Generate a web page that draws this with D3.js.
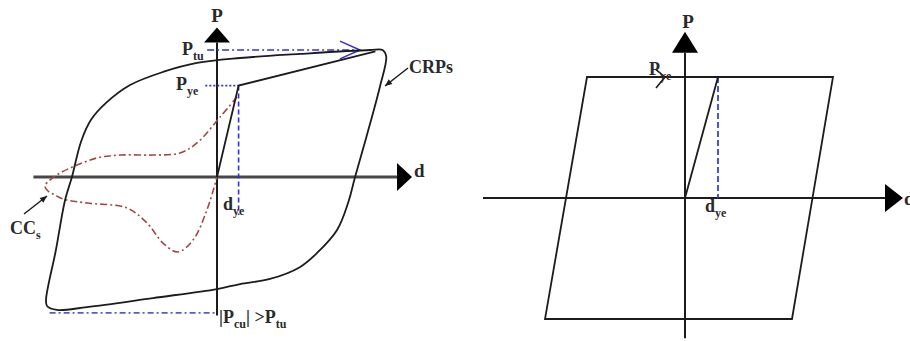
<!DOCTYPE html>
<html><head><meta charset="utf-8">
<script src="https://cdn.jsdelivr.net/npm/d3@7"></script>
<style>html,body{margin:0;padding:0;background:#fff;} svg{display:block;}</style>
</head><body>
<svg id="fig" width="910" height="341"></svg>
<script>
// ---- Left diagram: cyclic response envelope (CRPs) and concrete curve (CCs), [d, P] ----
const crpLoop = [
  [85,100],[92,100],[94,95],[90.5,71],[83,31.5],[76.7,0],[72.8,-20.5],[66.7,-41.7],
  [55.6,-59.8],[46,-71],[29.4,-80.3],[12.8,-84.3],[0,-88.2],[-35.6,-95.3],[-72.2,-102.4],
  [-88.9,-104.7],[-94.4,-101.6],[-95,-97],[-89.5,-57.5],[-84.4,-18.1],[-80.6,0],[-75.5,28],
  [-70,45],[-61.5,58.5],[-48.3,72.4],[-30,82.7],[-11.1,89.8],[12.8,93.7],[46,96.9]
];
const ccLoop = [
  [11.1,63],[1.7,47.2],[-11.1,26.8],[-20.6,18.9],[-35.6,17.3],[-53.9,17.3],[-66.7,15],
  [-77.8,9.4],[-87.2,3.1],[-92.8,-2.4],[-95.6,-7.1],[-93.9,-11],[-90,-14.2],[-85.6,-17.3],
  [-72.2,-20.5],[-50,-24.4],[-38.9,-36.2],[-30,-52],[-21.7,-59],[-13.3,-49.6],[-5.6,-26],[0,0]
];
const loadingLeft = [[0,0],[12,72],[88,99]];
const dyeLeft = 12, PyeLeft = 72, PtuLeft = 100, PcuLeft = -107;
const dAxisLeft = [-102, 100], PAxisLeft = [-109, 106];

// ---- Right diagram: elastic–perfectly plastic loop, [d, P] ----
const epLoop = [[-49,100],[74,100],[53.5,-100],[-70,-100]];
const loadingRight = [[0,0],[16.5,100]];
const dyeRight = 16.5, PyeRight = 100;
const dAxisRight = [-101, 100], PAxisRight = [-116, 120];

const svg = d3.select("#fig");
svg.append("rect").attr("width",910).attr("height",341).attr("fill","#fff");

const xL = d3.scaleLinear().domain([-100,100]).range([37,397]);
const yL = d3.scaleLinear().domain([-100,100]).range([304,50]);
const xR = d3.scaleLinear().domain([-100,100]).range([485,885]);
const yR = d3.scaleLinear().domain([-100,100]).range([319,77]);

const FONT = "'Liberation Serif','Times New Roman',serif";
const INK = "#1c1c1c", TXT = "#2a2a2a";
const BLUE = "#3434cc", RED = "#9c4a48";
const SW = 1.8;

function lineGen(x, y, curve) {
  return d3.line().x(p => x(p[0])).y(p => y(p[1])).curve(curve || d3.curveLinear);
}

function label(x, y, parts, size, anchor) {
  const t = svg.append("text").attr("x", x).attr("y", y)
    .attr("font-family", FONT).attr("font-weight", "bold")
    .attr("font-size", size || 18).attr("fill", TXT)
    .attr("text-anchor", anchor || "start");
  let shifted = false;
  parts.forEach(([s, sub]) => {
    const ts = t.append("tspan").text(s);
    if (sub && !shifted) { ts.attr("dy", 5).attr("font-size", 12); shifted = true; }
    else if (!sub && shifted) { ts.attr("dy", -5); shifted = false; }
  });
  return t;
}

function axes(x, y, dExt, PExt, tipD, tipP, width, col) {
  svg.append("line").attr("x1", x(dExt[0])).attr("x2", x(dExt[1]))
    .attr("y1", y(0)).attr("y2", y(0)).attr("stroke", col).attr("stroke-width", width);
  svg.append("line").attr("x1", x(0)).attr("x2", x(0))
    .attr("y1", y(PExt[0])).attr("y2", y(PExt[1])).attr("stroke", INK).attr("stroke-width", 2);
  const bx = x(dExt[1]), by = y(0);
  svg.append("path").attr("d", `M${bx},${by-14}L${bx+tipD},${by}L${bx},${by+14}Z`).attr("fill", "#000");
  const px = x(0), py = y(PExt[1]);
  svg.append("path").attr("d", `M${px-13},${py}L${px},${py-tipP}L${px+13},${py}Z`).attr("fill", "#000");
}

// ===== Left diagram =====
axes(xL, yL, dAxisLeft, PAxisLeft, 15, 15, 2.8, "#474747");

// blue reference lines
svg.append("path").attr("d", lineGen(xL, yL)([[-5.5, PtuLeft],[79.4, PtuLeft]]))
  .attr("fill","none").attr("stroke",BLUE).attr("stroke-width",1.6).attr("stroke-dasharray","7,3,2,3");
svg.append("path").attr("d", lineGen(xL, yL)([[68.3,107],[79.4,PtuLeft],[68.3,93]]))
  .attr("fill","none").attr("stroke",BLUE).attr("stroke-width",1.6);
svg.append("path").attr("d", lineGen(xL, yL)([[-6.5, PyeLeft],[dyeLeft, PyeLeft]]))
  .attr("fill","none").attr("stroke",BLUE).attr("stroke-width",1.7).attr("stroke-dasharray","2,2");
svg.append("path").attr("d", lineGen(xL, yL)([[dyeLeft, PyeLeft],[dyeLeft, -30]]))
  .attr("fill","none").attr("stroke",BLUE).attr("stroke-width",1.6).attr("stroke-dasharray","5,3");
svg.append("path").attr("d", lineGen(xL, yL)([[-93, PcuLeft],[0, PcuLeft]]))
  .attr("fill","none").attr("stroke","#5858d4").attr("stroke-width",1.6).attr("stroke-dasharray","6,3,2,3");

// concrete curve
svg.append("path").attr("d", lineGen(xL, yL, d3.curveCatmullRom.alpha(0.5))(ccLoop))
  .attr("fill","none").attr("stroke",RED).attr("stroke-width",1.6).attr("stroke-dasharray","7,3,2,3");

// envelope loop and initial loading branch
svg.append("path").attr("d", lineGen(xL, yL, d3.curveCatmullRomClosed.alpha(0.5))(crpLoop))
  .attr("fill","none").attr("stroke",INK).attr("stroke-width",SW);
svg.append("path").attr("d", lineGen(xL, yL)(loadingLeft))
  .attr("fill","none").attr("stroke",INK).attr("stroke-width",SW);

// leader arrows
function leader(x1, y1, x2, y2) {
  svg.append("line").attr("x1",x1).attr("y1",y1).attr("x2",x2).attr("y2",y2)
    .attr("stroke",INK).attr("stroke-width",1.5);
  const a = Math.atan2(y2 - y1, x2 - x1), L = 7, W = 3;
  const bx = x2 - L*Math.cos(a), by = y2 - L*Math.sin(a);
  svg.append("path").attr("d",
    `M${x2},${y2}L${bx - W*Math.sin(a)},${by + W*Math.cos(a)}L${bx + W*Math.sin(a)},${by - W*Math.cos(a)}Z`)
    .attr("fill", INK);
}
leader(408, 68, 385, 86);
leader(24, 214, 47, 196);

// labels
label(xL(0), 22, [["P"]], 19, "middle");
label(414, 177, [["d"]], 19);
label(182, 55, [["P"],["tu",1]], 18);
label(176, 90, [["P"],["ye",1]], 18);
label(223, 210, [["d"],["ye",1]], 18);
label(409, 73, [["CRPs"]], 18);
label(10, 234, [["CC"],["s",1]], 18);
label(219, 323, [["|P"],["cu",1],["| >P"],["tu",1]], 18);

// ===== Right diagram =====
axes(xR, yR, dAxisRight, PAxisRight, 18, 21, 2.2, INK);

svg.append("path").attr("d", lineGen(xR, yR)([[0, PyeRight],[dyeRight, PyeRight]]))
  .attr("fill","none").attr("stroke",BLUE).attr("stroke-width",1.6).attr("stroke-dasharray","5,2,2,2");
svg.append("path").attr("d", lineGen(xR, yR)([[dyeRight, PyeRight],[dyeRight, 0]]))
  .attr("fill","none").attr("stroke",BLUE).attr("stroke-width",1.7).attr("stroke-dasharray","6,3");

svg.append("path").attr("d", lineGen(xR, yR, d3.curveLinearClosed)(epLoop))
  .attr("fill","none").attr("stroke",INK).attr("stroke-width",SW);
svg.append("path").attr("d", lineGen(xR, yR)(loadingRight))
  .attr("fill","none").attr("stroke",INK).attr("stroke-width",SW);
svg.append("path").attr("d", lineGen(xR, yR)([[-14.5,106],[-10,PyeRight],[-14.5,91]]))
  .attr("fill","none").attr("stroke",INK).attr("stroke-width",1.6);

label(688, 28, [["P"]], 19, "middle");
label(649, 75, [["P"],["ye",1]], 18);
label(705, 212, [["d"],["ye",1]], 18);
label(904, 205, [["d"]], 19);
</script>
</body></html>
